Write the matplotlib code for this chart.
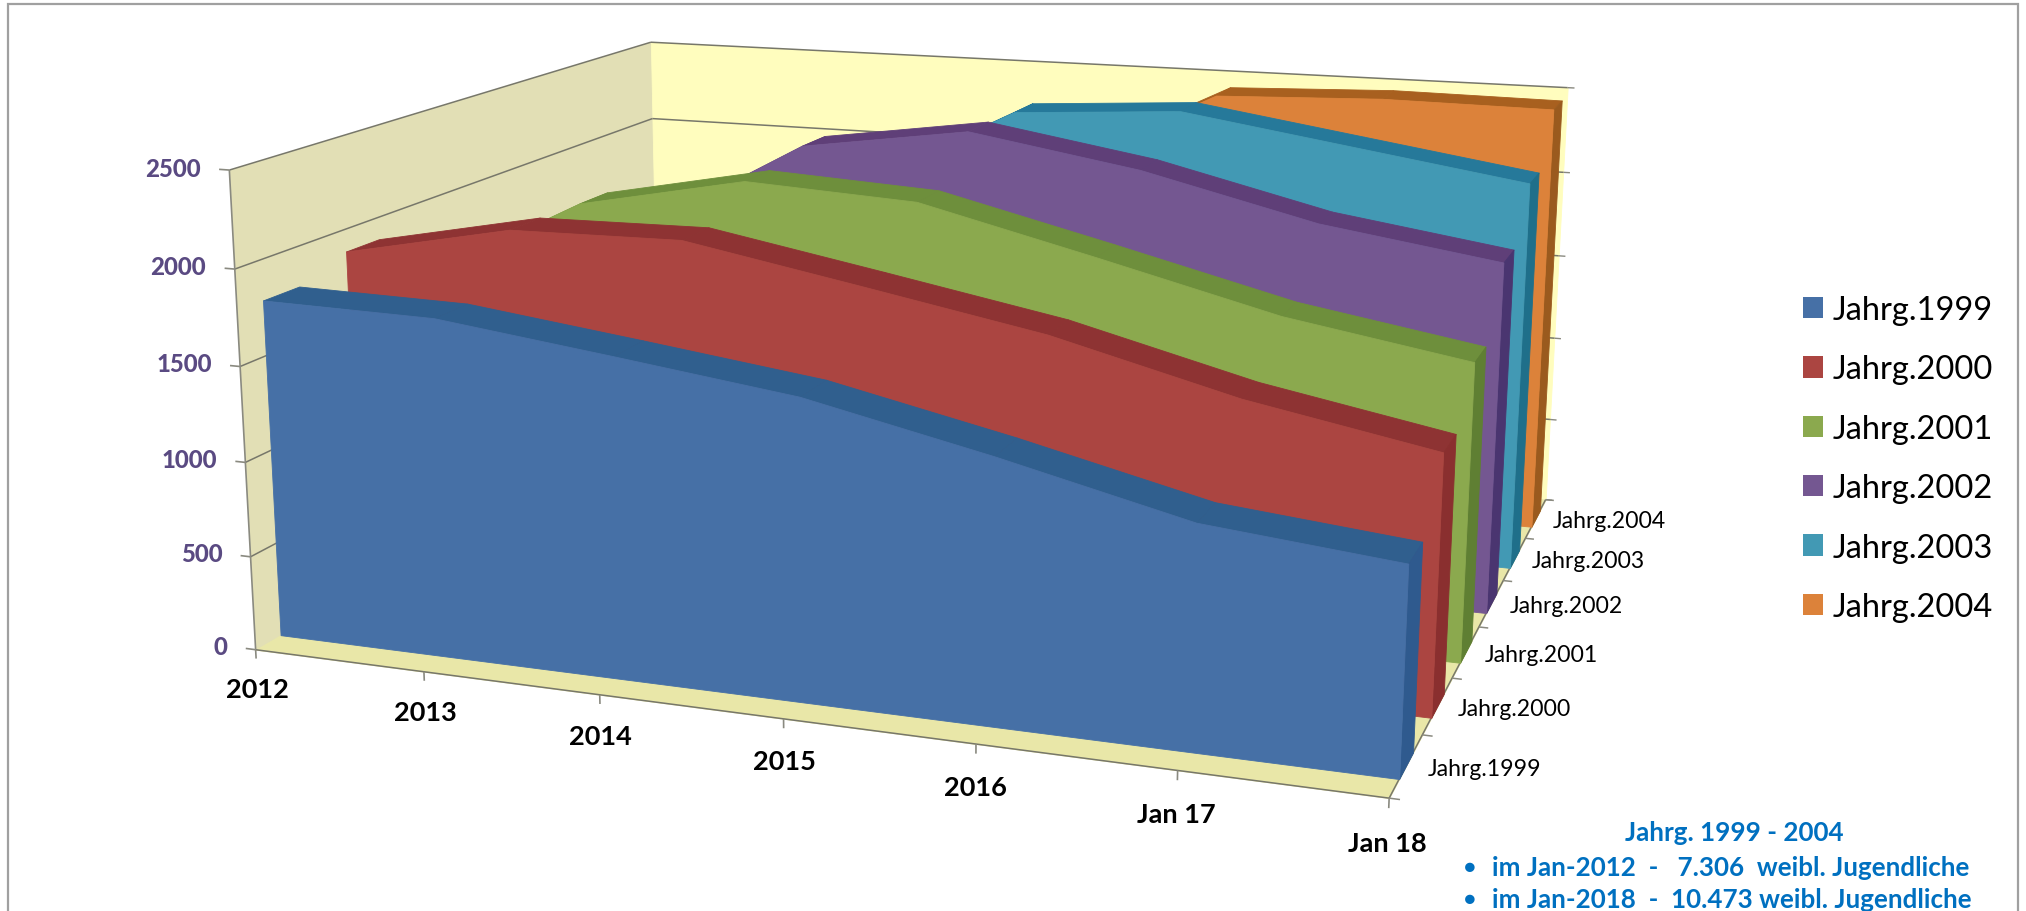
import numpy as np
import matplotlib
matplotlib.use('Agg')
import matplotlib.pyplot as plt
from matplotlib.patches import Patch, Rectangle
from mpl_toolkits.mplot3d.art3d import Line3DCollection, Poly3DCollection

plt.rcParams['font.family'] = ['Lato', 'DejaVu Sans']

years = ['2012', '2013', '2014', '2015', '2016', 'Jan 17', 'Jan 18']
cohorts = ['Jahrg.1999', 'Jahrg.2000', 'Jahrg.2001', 'Jahrg.2002', 'Jahrg.2003', 'Jahrg.2004']
jahrg_1999 = [1789, 1773, 1660, 1542, 1341, 1118, 1028]
jahrg_2000 = [1880, 2064, 2077, 1910, 1739, 1501, 1326]
jahrg_2001 = [1576, 2054, 2238, 2188, 1962, 1728, 1570]
jahrg_2002 = [1240, 1770, 2295, 2431, 2276, 2049, 1908]
jahrg_2003 = [640, 1290, 1924, 2412, 2470, 2325, 2180]
jahrg_2004 = [181, 900, 1387, 1961, 2438, 2470, 2460]
value_ticks = [0, 500, 1000, 1500, 2000, 2500]

series = [jahrg_1999, jahrg_2000, jahrg_2001, jahrg_2002, jahrg_2003, jahrg_2004]
front_colors = ['#4670A6', '#AB4541', '#8BA94E', '#745791', '#4299B4', '#DC823A']
top_colors = ['#305F8E', '#8E3333', '#6E8F3C', '#5F3F78', '#26799A', '#A8601F']
side_colors = ['#2F5A8E', '#8A2F2F', '#5F7F33', '#4A3570', '#1F6F8A', '#9A5A1E']

WIDTH, HEIGHT = 2026, 912
GAP = 0.29
XMAX, DMAX, VMAX = 6, 6, 2500

# (x index, depth, value) -> pixel of the reference, the axis corners and ticks
# used to work out the camera of the excel chart
anchors = [
    (0, 0, 0, 257, 651), (0, 0, 2500, 230, 171), (0, 0, 2000, 235, 269),
    (0, 0, 1500, 240, 367), (0, 0, 1000, 245, 463), (6, 0, 0, 1387, 798),
    (6, 6, 0, 1544, 500), (6, 6, 2500, 1569, 89), (0, 6, 2500, 650.5, 43),
    (0, 6, 2000, 652, 119), (1, 0, 0, 424.5, 675), (2, 0, 0, 600, 696),
    (3, 0, 0, 783, 720), (4, 0, 0, 973, 747), (5, 0, 0, 1176, 772),
    (6, 5, 0, 1527, 539), (6, 4, 0, 1504, 581), (6, 3, 0, 1480.6, 627),
    (6, 2, 0, 1454, 678), (6, 1, 0, 1424, 735), (6, 6, 2000, 1563, 174),
    (6, 6, 1500, 1558, 258), (6, 6, 1000, 1553, 340),
]


def camera():
    A, b = [], []
    for x, d, v, u, w in anchors:
        A.append([x, d, v, 1, 0, 0, 0, 0, -u * x, -u * d, -u * v])
        A.append([0, 0, 0, 0, x, d, v, 1, -w * x, -w * d, -w * v])
        b += [u, w]
    # solve with the value in thousands, else the numbers get too far apart
    A = np.array(A, float)
    A[:, [2, 6, 10]] /= 1000
    p = np.linalg.lstsq(A, np.array(b, float), rcond=None)[0]
    cam = np.append(p, 1).reshape(3, 4)
    cam[:, 2] /= 1000
    cam[1] = HEIGHT * cam[2] - cam[1]  # image rows run downwards, display upwards
    return cam


fig = plt.figure(figsize=(WIDTH / 100, HEIGHT / 100), dpi=100, facecolor='white')
ratio = WIDTH / HEIGHT
# mplot3d keeps its axes square, so make the square as wide as the figure
ax = fig.add_axes([0, (1 - ratio) / 2, 1, ratio], projection='3d', computed_zorder=False)
ax.set_axis_off()
cam = camera()


def pinned_proj():
    to_view = ax.transData.inverted().get_matrix()
    return np.vstack([to_view @ cam, [0, 1, 0, 0]])[[0, 1, 3, 2]]


ax.get_proj = pinned_proj


def face(verts, color, z):
    poly = Poly3DCollection([verts], facecolors=color, edgecolors=color, linewidths=0.6, zorder=z)
    ax.add_collection3d(poly, autolim=False)


def label(x, d, v, text, **kw):
    # plain figure text put where the camera sees the point
    h = cam @ np.array([x, d, v, 1.0])
    fig.text(h[0] / h[2] / WIDTH, h[1] / h[2] / HEIGHT, text, va='center', **kw)


def wire(start, end, color='#77776A', lw=1.1):
    ax.add_collection3d(Line3DCollection([[start, end]], colors=color, linewidths=lw, zorder=5), autolim=False)


# walls and floor
face([(0, 0, 0), (0, DMAX, 0), (0, DMAX, VMAX), (0, 0, VMAX)], '#E2DFB5', 1)
face([(0, DMAX, 0), (XMAX, DMAX, 0), (XMAX, DMAX, VMAX), (0, DMAX, VMAX)], '#FFFDBE', 1)
face([(0, 0, 0), (XMAX, 0, 0), (XMAX, DMAX, 0), (0, DMAX, 0)], '#E9E7A8', 1)

for v in value_ticks[1:]:
    wire((0, 0, v), (0, DMAX, v))
    wire((0, DMAX, v), (XMAX, DMAX, v))
wire((0, 0, 0), (XMAX, 0, 0))
wire((XMAX, 0, 0), (XMAX, DMAX, 0))
wire((0, 0, 0), (0, 0, VMAX), color='#8A8A80', lw=1.2)

# ticks
for v in value_ticks:
    wire((-0.06, 0, v), (0, 0, v), color='#8A8A80', lw=1.2)
    wire((XMAX, DMAX, v), (XMAX + 0.04, DMAX, v), color='#8A8A80', lw=1)
    label(-0.17, 0, v, str(v), ha='right', fontsize=17.3, fontweight='black', color='#5A4A82')
for i, name in enumerate(years):
    wire((i, 0, 0), (i, 0, -48), color='#8A8A80', lw=1.2)
    label(i, 0, -215, name, ha='center', fontsize=19.5, fontweight='bold', color='black')
for d in range(DMAX + 1):
    wire((XMAX, d, 0), (XMAX + 0.05, d, 0), color='#8A8A80')
for d, name in enumerate(cohorts):
    label(XMAX + 0.1, d + 0.5, 0, name, ha='left', fontsize=16.6, color='black')

# the areas, back one first so the front ones paint over it
xs = np.arange(len(years))
for d in range(len(series) - 1, -1, -1):
    vals = series[d]
    front, back = d + GAP, d + 1 - GAP
    z = 10 + (len(series) - d) * 3
    for i in range(len(xs) - 1):
        face([(xs[i], front, vals[i]), (xs[i + 1], front, vals[i + 1]),
              (xs[i + 1], back, vals[i + 1]), (xs[i], back, vals[i])], top_colors[d], z)
    face([(xs[-1], front, 0), (xs[-1], back, 0), (xs[-1], back, vals[-1]), (xs[-1], front, vals[-1])],
         side_colors[d], z + 1)
    outline = [(xs[0], front, 0)] + [(x, front, v) for x, v in zip(xs, vals)] + [(xs[-1], front, 0)]
    face(outline, front_colors[d], z + 2)

handles = [Patch(facecolor=c, edgecolor='none') for c in front_colors]
fig.legend(handles, cohorts, loc='center left', bbox_to_anchor=(1803 / WIDTH, 1 - 459.5 / HEIGHT),
           frameon=False, fontsize=23.5, labelspacing=0.9, handlelength=0.62, handleheight=0.62,
           handletextpad=0.28, borderpad=0, borderaxespad=0)

# note under the legend
note_color = '#0070C0'
fig.text(1734 / WIDTH, 1 - 833 / HEIGHT, 'Jahrg. 1999 - 2004', ha='center', va='center',
         fontsize=18.7, fontweight='bold', color=note_color)
for y, line in [(868, 'im Jan-2012  -   7.306  weibl. Jugendliche'),
                (900, 'im Jan-2018  -  10.473 weibl. Jugendliche')]:
    fig.text(1470 / WIDTH, 1 - y / HEIGHT, '●', ha='center', va='center', fontsize=14, color=note_color)
    fig.text(1492 / WIDTH, 1 - y / HEIGHT, line, ha='left', va='center', fontsize=18.7,
             fontweight='bold', color=note_color)

# chart frame, its bottom edge is cut off in the screenshot
fig.add_artist(Rectangle((8 / WIDTH, -0.02), 2010 / WIDTH, 1.02 - 5 / HEIGHT, transform=fig.transFigure,
                         fill=False, edgecolor='#A0A0A0', lw=1.6))

fig.savefig('out.png', dpi=100)
